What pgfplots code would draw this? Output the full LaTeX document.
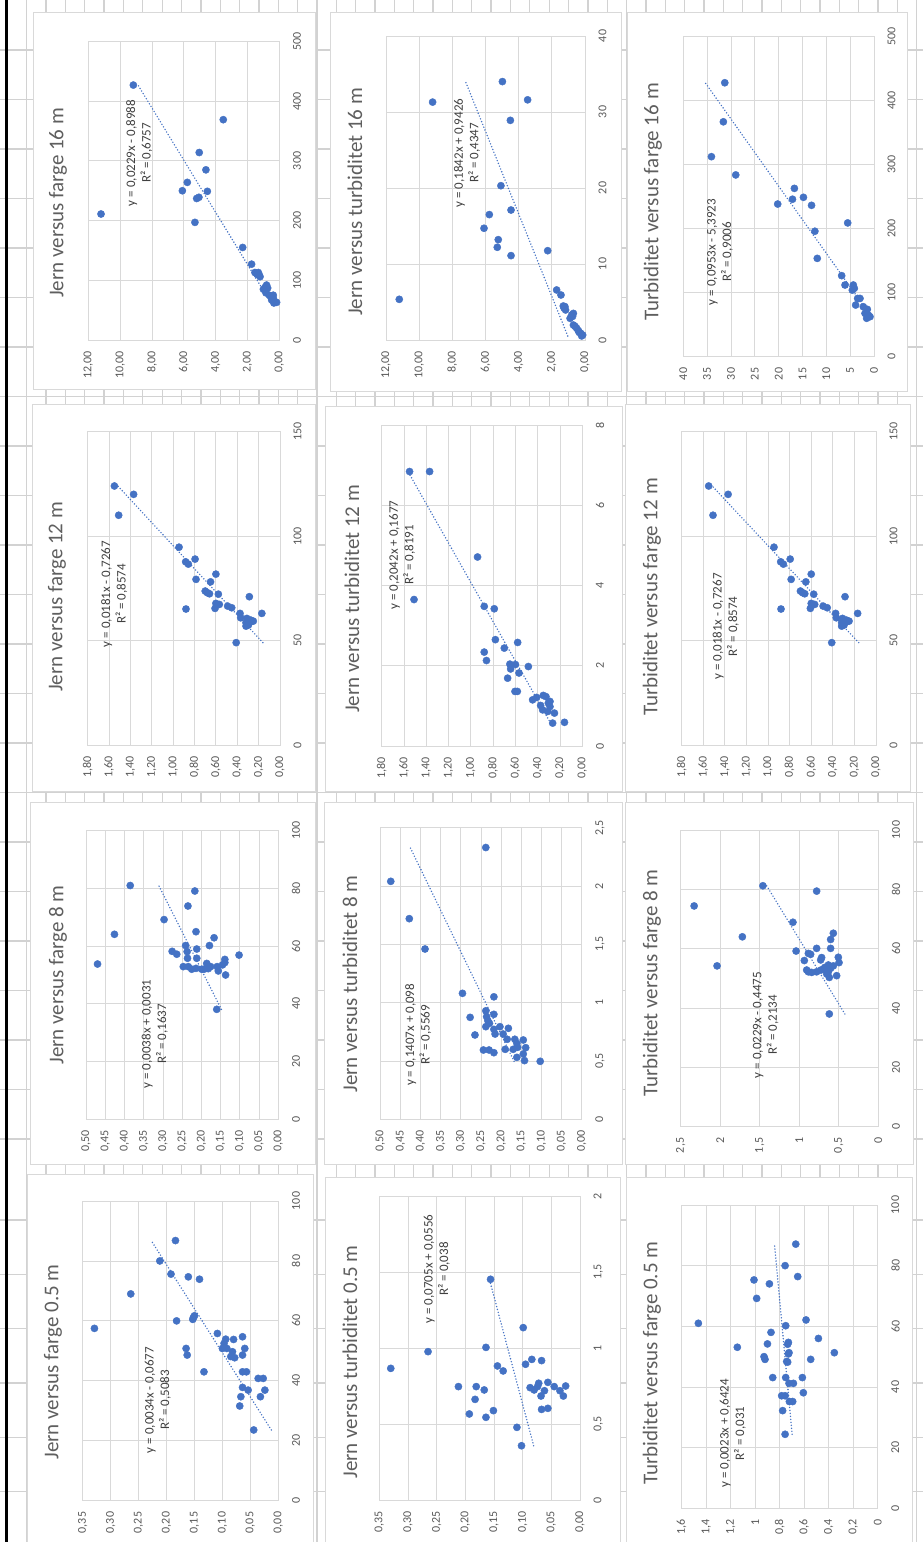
\documentclass[border=0pt]{standalone}
\usepackage{fontspec}
\setmainfont{Carlito}
\usepackage{pgfplots}
\pgfplotsset{compat=1.18}
\definecolor{xlblue}{HTML}{4472C4}
\definecolor{gridc}{HTML}{D9D9D9}
\definecolor{labc}{HTML}{595959}
\definecolor{ttlc}{HTML}{5F5F5F}
\definecolor{eqc}{HTML}{404040}
\definecolor{cellc}{HTML}{D2D2D2}
\newcommand\tickfont{\fontsize{12}{14}\selectfont}
\newcommand\eqfont{\fontsize{13}{15.5}\selectfont}
\newcommand\titlefont{\fontsize{21}{25}\selectfont}
\pgfplotsset{
 panel/.style={
  scale only axis, x dir=reverse, xmin=0, ymin=0, anchor=south west,
  axis line style={draw=gridc, line width=0.8pt},
  grid=major, major grid style={draw=gridc, line width=0.8pt},
  major tick length=0pt, tick style={draw=none},
  yticklabel pos=right,
  xticklabel style={rotate=90, anchor=east, inner sep=0pt, font=\tickfont, text=labc},
  yticklabel style={rotate=90, anchor=north, inner sep=0pt, font=\tickfont, text=labc},
  xticklabel shift=11pt, yticklabel shift=13.5pt,
  scaled ticks=false,
  /pgf/number format/assume math mode=true,
  /pgf/number format/use comma,
  /pgf/number format/1000 sep={},
 },
 jern/.style={xticklabel style={/pgf/number format/fixed, /pgf/number format/fixed zerofill, /pgf/number format/precision=2}},
 pts/.style={only marks, mark=*, mark size=3.6pt, mark options={draw=xlblue, fill=xlblue}},
 trend/.style={no marks, draw=xlblue, line width=1.6pt, dash pattern=on 0pt off 3pt, line cap=round},
}
\begin{document}
\begin{tikzpicture}
\path[use as bounding box] (0,0) rectangle (923pt,1542pt);
\fill[white] (0,0) rectangle (923pt,1542pt);
\begin{scope}[x=1pt,y=-1pt,yshift=1542pt]
 \foreach \k in {0,...,46} { \draw[cellc, line width=1.3pt] ({26.7+19.35*\k},0) -- ({26.7+19.35*\k},1542); }
 \foreach \j in {0,...,22} { \draw[cellc, line width=1.3pt] (0,{50+49.5*\j}) -- (923,{50+49.5*\j}); }
 \foreach \j in {0,...,5} { \draw[cellc, line width=1.3pt] (0,{1220+54.3*\j}) -- (923,{1220+54.3*\j}); }
 \filldraw[fill=white, draw=gridc, line width=1pt] (33,13) rectangle (315,390);
 \filldraw[fill=white, draw=gridc, line width=1pt] (330,13) rectangle (621,392);
 \filldraw[fill=white, draw=gridc, line width=1pt] (627,13) rectangle (907,392);
 \filldraw[fill=white, draw=gridc, line width=1pt] (32,405) rectangle (315,792);
 \filldraw[fill=white, draw=gridc, line width=1pt] (325,407) rectangle (622,792);
 \filldraw[fill=white, draw=gridc, line width=1pt] (625,405) rectangle (910,792);
 \filldraw[fill=white, draw=gridc, line width=1pt] (30,803) rectangle (315,1165);
 \filldraw[fill=white, draw=gridc, line width=1pt] (324,803) rectangle (622,1165);
 \filldraw[fill=white, draw=gridc, line width=1pt] (625,803) rectangle (913,1165);
 \filldraw[fill=white, draw=gridc, line width=1pt] (27,1175) rectangle (313,1545);
 \filldraw[fill=white, draw=gridc, line width=1pt] (325,1178) rectangle (620,1545);
 \filldraw[fill=white, draw=gridc, line width=1pt] (626,1178) rectangle (912,1545);
 \draw[black, line width=3pt] (6.5,0) -- (6.5,1542);
\end{scope}

% A: Jern vs farge 16 m
\begin{axis}[panel, jern, at={(88.3pt,1202pt)}, width=191pt, height=298.5pt, xmax=12, ymax=500,
  xtick={0,2,4,6,8,10,12}, ytick={0,100,200,300,400,500}]
\addplot[pts] coordinates {(9.17,427) (11.2,211) (3.52,369) (5.03,314) (4.61,285) (5.78,264) (6.09,250) (4.52,249) (5.19,237) (5.05,239) (5.30,197) (2.30,155) (1.74,127) (1.53,113) (1.32,113) (1.26,109) (1.21,106) (0.80,92) (0.73,87) (1.00,85) (0.84,79) (0.63,75) (0.38,75) (0.48,70) (0.48,67) (0.27,64) (0.34,62) (0.17,63) (0.38,70) (0.90,88) (1.40,110)};
\addplot[trend] coordinates {(0.498,61) (8.880,427)};
\end{axis}

% B: Jern vs turbiditet 16 m
\begin{axis}[panel, jern, at={(386pt,1202pt)}, width=199pt, height=304pt, xmax=12, ymax=40,
  xtick={0,2,4,6,8,10,12}, ytick={0,10,20,30,40}]
\addplot[pts] coordinates {(11.2,5.35) (9.19,31.3) (4.98,34.0) (3.46,31.6) (4.50,28.9) (5.07,20.3) (4.46,17.1) (5.77,16.5) (6.09,14.7) (5.23,13.2) (5.29,12.2) (4.46,11.1) (2.25,11.75) (1.71,6.58) (1.45,5.92) (1.31,4.47) (1.21,4.39) (1.17,3.95) (0.70,3.5) (0.80,3.3) (0.90,2.85) (0.70,1.97) (0.50,1.54) (0.40,1.23) (0.26,0.88) (0.14,0.66) (0.20,0.53) (1.26,4.2) (0.75,3.1) (0.6,1.8) (0.35,1.0)};
\addplot[trend] coordinates {(1.040,0.53) (7.205,34.0)};
\end{axis}

% C: Turbiditet vs farge 16 m
\begin{axis}[panel, at={(683.3pt,1185.3pt)}, width=190.7pt, height=320pt, xmax=40, ymax=500,
  xtick={0,5,10,15,20,25,30,35,40}, ytick={0,100,200,300,400,500}]
\addplot[pts] coordinates {(31.3,428) (31.6,367) (34.1,312.5) (29.0,284) (16.7,263) (17.1,246) (14.8,249) (20.2,238.5) (13.1,236.5) (12.4,196) (5.52,209) (11.9,153.6) (6.78,126.6) (6.08,112) (4.34,112) (4.13,106.8) (4.55,104) (3.43,91) (2.94,91) (3.85,80.7) (2.24,78) (1.40,74) (1.89,67.7) (1.19,65.1) (1.54,60) (0.84,62.5)};
\addplot[trend] coordinates {(0.326,60) (35.396,428)};
\end{axis}

% D: Jern vs farge 12 m
\begin{axis}[panel, jern, at={(87.7pt,797pt)}, width=192.3pt, height=313.3pt, xmax=1.8, ymax=150,
  xtick={0,0.2,0.4,0.6,0.8,1,1.2,1.4,1.6,1.8}, ytick={0,50,100,150}]
\addplot[pts] coordinates {(1.55,124) (1.37,120) (1.51,110) (0.945,94.7) (0.795,89) (0.883,87.7) (0.858,86.6) (0.786,79.3) (0.60,81.8) (0.65,78.1) (0.70,73.7) (0.68,72.9) (0.66,72.4) (0.577,72.2) (0.287,71) (0.60,67.8) (0.568,67.3) (0.608,65.4) (0.49,66.5) (0.452,65.7) (0.88,65.1) (0.374,63) (0.17,63) (0.368,60.9) (0.31,60.6) (0.274,59.8) (0.25,59.3) (0.318,58.5) (0.296,57.4) (0.318,56.9) (0.41,49) (0.274,59)};
\addplot[trend] coordinates {(0.1602,49) (1.5177,124)};
\end{axis}

% E: Jern vs turbiditet 12 m
\begin{axis}[panel, jern, at={(381.7pt,796pt)}, width=200.6pt, height=321pt, xmax=1.8, ymax=8,
  xtick={0,0.2,0.4,0.6,0.8,1,1.2,1.4,1.6,1.8}, ytick={0,2,4,6,8}]
\addplot[pts] coordinates {(1.55,6.84) (1.37,6.84) (1.51,3.65) (0.94,4.71) (0.88,3.48) (0.79,3.42) (0.78,2.65) (0.58,2.58) (0.70,2.44) (0.88,2.34) (0.86,2.13) (0.65,2.04) (0.60,2.03) (0.484,1.98) (0.643,1.92) (0.568,1.82) (0.67,1.69) (0.604,1.36) (0.583,1.36) (0.446,1.15) (0.41,1.21) (0.35,1.26) (0.326,1.23) (0.374,1.01) (0.305,1.07) (0.29,0.98) (0.356,0.9) (0.31,0.86) (0.25,0.82) (0.266,0.57) (0.16,0.59) (0.29,1.11)};
\addplot[trend] coordinates {(0.2841,0.57) (1.5644,6.84)};
\end{axis}

% F: Turbiditet vs farge 12 m (same data as D)
\begin{axis}[panel, jern, at={(681.7pt,797pt)}, width=194.3pt, height=313.3pt, xmax=1.8, ymax=150,
  xtick={0,0.2,0.4,0.6,0.8,1,1.2,1.4,1.6,1.8}, ytick={0,50,100,150}]
\addplot[pts] coordinates {(1.55,124) (1.37,120) (1.51,110) (0.945,94.7) (0.795,89) (0.883,87.7) (0.858,86.6) (0.786,79.3) (0.60,81.8) (0.65,78.1) (0.70,73.7) (0.68,72.9) (0.66,72.4) (0.577,72.2) (0.287,71) (0.60,67.8) (0.568,67.3) (0.608,65.4) (0.49,66.5) (0.452,65.7) (0.88,65.1) (0.374,63) (0.17,63) (0.368,60.9) (0.31,60.6) (0.274,59.8) (0.25,59.3) (0.318,58.5) (0.296,57.4) (0.318,56.9) (0.41,49) (0.274,59)};
\addplot[trend] coordinates {(0.1602,49) (1.5177,124)};
\end{axis}

% G: Jern vs farge 8 m
\begin{axis}[panel, jern, at={(86pt,422.7pt)}, width=192.3pt, height=288.6pt, xmax=0.5, ymax=100,
  xtick={0,0.05,0.1,0.15,0.2,0.25,0.3,0.35,0.4,0.45,0.5}, ytick={0,20,40,60,80,100}]
\addplot[pts] coordinates {(0.470,53.8) (0.426,64.1) (0.385,81) (0.297,69.2) (0.217,79.1) (0.235,73.9) (0.214,65.0) (0.167,62.9) (0.179,60.2) (0.276,58.2) (0.264,57.2) (0.241,60.2) (0.237,58.1) (0.212,59.0) (0.236,55.8) (0.212,55.8) (0.102,56.9) (0.139,55.4) (0.139,54.3) (0.145,53.5) (0.186,54.0) (0.176,52.9) (0.234,52.9) (0.225,52.0) (0.199,52.0) (0.193,52.0) (0.182,52.2) (0.156,51.4) (0.159,52.9) (0.137,50.0) (0.247,52.9) (0.160,38.1) (0.214,52.3)};
\addplot[trend] coordinates {(0.1479,38.1) (0.3109,81)};
\end{axis}

% H: Jern vs turbiditet 8 m
\begin{axis}[panel, jern, at={(380.3pt,422.7pt)}, width=201.4pt, height=291.6pt, xmax=0.5, ymax=2.5,
  xtick={0,0.05,0.1,0.15,0.2,0.25,0.3,0.35,0.4,0.45,0.5}, ytick={0,0.5,1,1.5,2,2.5}]
\addplot[pts] coordinates {(0.474,2.04) (0.238,2.33) (0.428,1.72) (0.389,1.46) (0.296,1.08) (0.218,1.05) (0.277,0.874) (0.238,0.93) (0.218,0.90) (0.236,0.88) (0.233,0.846) (0.229,0.823) (0.238,0.794) (0.203,0.794) (0.265,0.723) (0.218,0.771) (0.215,0.731) (0.182,0.78) (0.195,0.731) (0.185,0.686) (0.166,0.686) (0.145,0.68) (0.161,0.651) (0.244,0.594) (0.230,0.594) (0.218,0.571) (0.190,0.60) (0.170,0.60) (0.159,0.617) (0.139,0.614) (0.145,0.56) (0.161,0.531) (0.142,0.503) (0.103,0.497)};
\addplot[trend] coordinates {(0.1679,0.497) (0.4258,2.33)};
\end{axis}

% I: Turbiditet vs farge 8 m
\begin{axis}[panel, at={(680.7pt,415.3pt)}, width=197.6pt, height=296.7pt, xmax=2.5, ymax=100,
  xtick={0,0.5,1,1.5,2,2.5}, ytick={0,20,40,60,80,100}]
\addplot[pts] coordinates {(2.33,74.4) (2.04,54.2) (1.72,64.0) (1.46,81.2) (0.78,79.4) (1.08,68.9) (1.04,59.2) (0.885,58.4) (0.856,58.1) (0.936,56.0) (0.78,60.1) (0.717,57.0) (0.729,56.2) (0.906,52.8) (0.885,52.2) (0.843,52.0) (0.78,52.2) (0.725,52.8) (0.675,53.7) (0.632,54.5) (0.603,53.4) (0.569,54.2) (0.632,52.2) (0.653,51.5) (0.62,50.3) (0.527,50.9) (0.603,60.1) (0.603,63.1) (0.569,65.2) (0.506,57.1) (0.497,55.3) (0.62,38.0) (0.683,53.4)};
\addplot[trend] coordinates {(0.4227,38) (1.4120,81.2)};
\end{axis}

% J: Jern vs farge 0.5 m
\begin{axis}[panel, jern, at={(82.7pt,41.3pt)}, width=195.6pt, height=299.7pt, xmax=0.35, ymax=100,
  xtick={0,0.05,0.1,0.15,0.2,0.25,0.3,0.35}, ytick={0,20,40,60,80,100}]
\addplot[pts] coordinates {(0.329,57.5) (0.264,69.0) (0.184,86.8) (0.212,80.0) (0.192,75.6) (0.161,74.7) (0.141,73.9) (0.182,60.0) (0.152,61.1) (0.153,60.5) (0.150,61.7) (0.165,50.8) (0.163,48.6) (0.133,43.0) (0.109,55.8) (0.094,53.9) (0.097,52.5) (0.100,50.8) (0.080,53.8) (0.064,54.7) (0.060,50.8) (0.082,49.7) (0.085,48.1) (0.078,47.7) (0.064,48.6) (0.064,43.0) (0.057,43.0) (0.064,37.8) (0.054,36.9) (0.067,34.7) (0.069,31.6) (0.036,40.8) (0.027,40.8) (0.024,36.9) (0.032,34.7) (0.044,23.6) (0.092,50.8)};
\addplot[trend] coordinates {(0.0125,23.6) (0.2274,86.8)};
\end{axis}

% K: Jern vs turbiditet 0.5 m
\begin{axis}[panel, jern, at={(379.3pt,42pt)}, width=200.7pt, height=304pt, xmax=0.35, ymax=2,
  xtick={0,0.05,0.1,0.15,0.2,0.25,0.3,0.35}, ytick={0,0.5,1,1.5,2}]
\addplot[pts] coordinates {(0.330,0.866) (0.265,0.976) (0.164,1.004) (0.099,1.134) (0.156,1.452) (0.144,0.882) (0.134,0.849) (0.095,0.893) (0.084,0.925) (0.067,0.917) (0.212,0.746) (0.181,0.746) (0.167,0.724) (0.183,0.662) (0.193,0.566) (0.151,0.588) (0.164,0.544) (0.110,0.478) (0.102,0.357) (0.087,0.739) (0.080,0.724) (0.072,0.768) (0.068,0.684) (0.062,0.719) (0.056,0.774) (0.045,0.746) (0.035,0.719) (0.029,0.684) (0.025,0.75) (0.067,0.596) (0.056,0.603) (0.074,0.746)};
\addplot[trend] coordinates {(0.0808,0.357) (0.1580,1.452)};
\end{axis}

% L: Turbiditet vs farge 0.5 m
\begin{axis}[panel, at={(681.7pt,33.7pt)}, width=196pt, height=303.3pt, xmax=1.6, ymax=100,
  xtick={0,0.2,0.4,0.6,0.8,1,1.2,1.4,1.6}, ytick={0,20,40,60,80,100}]
\addplot[pts] coordinates {(1.464,61.0) (1.146,53.1) (1.010,75.3) (0.988,69.2) (0.884,74.0) (0.669,87.1) (0.756,80.0) (0.653,76.4) (0.751,60.2) (0.585,62.1) (0.871,58.0) (0.90,54.2) (0.928,50.0) (0.92,49.1) (0.729,54.7) (0.735,54.1) (0.724,51.3) (0.729,50.9) (0.743,48.4) (0.735,48.2) (0.484,56.0) (0.547,49.1) (0.354,51.3) (0.857,43.1) (0.751,43.1) (0.615,43.1) (0.724,41.2) (0.688,41.2) (0.607,38.1) (0.784,37.1) (0.756,37.1) (0.721,35.2) (0.694,35.2) (0.776,32.2) (0.756,24.4)};
\addplot[trend] coordinates {(0.6985,24.4) (0.8427,87.1)};
\end{axis}

\begin{scope}[x=1pt,y=-1pt,yshift=1542pt]
 \tikzset{ttl/.style={rotate=90, font=\titlefont, text=ttlc, inner sep=0pt},
          eq/.style={rotate=90, font=\eqfont, text=eqc, align=center, inner sep=0pt}}
 \node[ttl] at (58,203) {Jern versus farge 16 m};
 \node[ttl] at (355,202) {Jern versus turbiditet 16 m};
 \node[ttl] at (653,202) {Turbiditet versus farge 16 m};
 \node[ttl] at (57,597) {Jern versus farge 12 m};
 \node[ttl] at (352,599) {Jern versus turbiditet 12 m};
 \node[ttl] at (652,597) {Turbiditet versus farge 12 m};
 \node[ttl] at (58,975) {Jern versus farge 8 m};
 \node[ttl] at (350,984) {Jern versus turbiditet 8 m};
 \node[ttl] at (652,983) {Turbiditet versus farge 8 m};
 \node[ttl] at (53,1362) {Jern versus farge 0.5 m};
 \node[ttl] at (350,1362) {Jern versus turbiditet 0.5 m};
 \node[ttl] at (652,1363) {Turbiditet versus farge 0.5 m};
 \node[eq] at (139.2,153) {y = 0,0229x - 0,8988\\R² = 0,6757};
 \node[eq] at (467,153) {y = 0,1842x + 0,9426\\R² = 0,4347};
 \node[eq] at (720,252) {y = 0,0953x - 5,3923\\R² = 0,9006};
 \node[eq] at (114.3,594) {y = 0,0181x - 0,7267\\R² = 0,8574};
 \node[eq] at (402,555) {y = 0,2042x + 0,1677\\R² = 0,8191};
 \node[eq] at (725.8,626.5) {y = 0,0181x - 0,7267\\R² = 0,8574};
 \node[eq] at (154.7,1034) {y = 0,0038x + 0,0031\\R² = 0,1637};
 \node[eq] at (418.3,1035) {y = 0,1407x + 0,098\\R² = 0,5569};
 \node[eq] at (765.8,1025) {y = 0,0229x - 0,4475\\R² = 0,2134};
 \node[eq] at (157.8,1400) {y = 0,0034x - 0,0677\\R² = 0,5083};
 \node[eq] at (436.7,1269) {y = 0,0705x + 0,0556\\R² = 0,038};
 \node[eq] at (732.8,1433.5) {y = 0,0023x + 0,6424\\R² = 0,031};
\end{scope}
\end{tikzpicture}
\end{document}
